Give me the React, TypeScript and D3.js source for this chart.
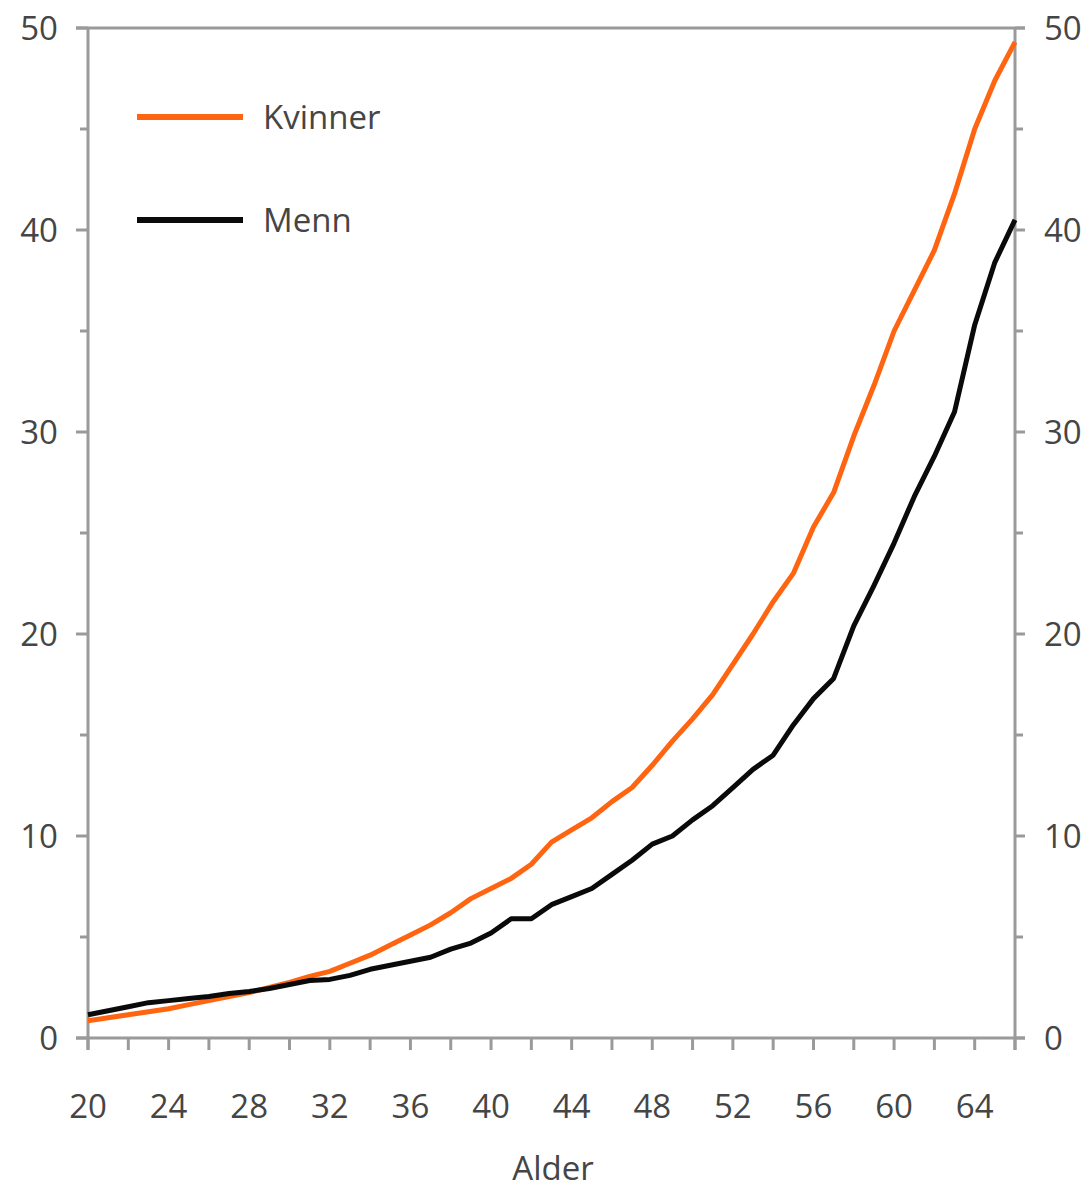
import React from "react";
import * as d3 from "d3";

const ages = d3.range(20, 67);
const kvinner = [0.85, 1.0, 1.15, 1.3, 1.45, 1.65, 1.85, 2.05, 2.25, 2.5, 2.75, 3.05, 3.3, 3.7, 4.1, 4.6, 5.1, 5.6, 6.2, 6.9, 7.4, 7.9, 8.6, 9.7, 10.3, 10.9, 11.7, 12.4, 13.5, 14.7, 15.8, 17.0, 18.5, 20.0, 21.6, 23.0, 25.3, 27.0, 29.8, 32.3, 35.0, 37.0, 39.0, 41.8, 45.0, 47.4, 49.3];
const menn = [1.15, 1.35, 1.55, 1.75, 1.85, 1.95, 2.05, 2.2, 2.3, 2.45, 2.65, 2.85, 2.9, 3.1, 3.4, 3.6, 3.8, 4.0, 4.4, 4.7, 5.2, 5.9, 5.9, 6.6, 7.0, 7.4, 8.1, 8.8, 9.6, 10.0, 10.8, 11.5, 12.4, 13.3, 14.0, 15.5, 16.8, 17.8, 20.4, 22.4, 24.5, 26.8, 28.8, 31.0, 35.3, 38.4, 40.5];
const xTickLabels = [20, 24, 28, 32, 36, 40, 44, 48, 52, 56, 60, 64];
const xMinorTicks = d3.range(20, 67, 2);
const yTickLabels = [0, 10, 20, 30, 40, 50];
const yMinorTicks = [5, 15, 25, 35, 45];
const seriesNames = ["Kvinner", "Menn"];
const seriesColors = ["#ff6510", "#0a0a0a"];
const xTitle = "Alder";

export default function App() {
  const W = 1092, H = 1189;
  const left = 88, right = 1015, top = 28, bottom = 1038;
  const x = d3.scaleLinear().domain([20, 66]).range([left, right]);
  const y = d3.scaleLinear().domain([0, 50]).range([bottom, top]);
  const line = d3.line<number>().x((_, i) => x(ages[i])).y((d) => y(d)).curve(d3.curveLinear);
  const axisColor = "#9a9a9a";
  const textColor = "#454545";
  const font = "'Open Sans', sans-serif";
  const fs = 33;
  const series = [kvinner, menn];
  return (
    <svg width={W} height={H} style={{ position: "absolute", left: 0, top: 0, background: "#fff" }}>
      <line x1={left - 12} x2={right + 10} y1={top} y2={top} stroke={axisColor} strokeWidth={3} />
      <line x1={left - 12} x2={right + 10} y1={bottom} y2={bottom} stroke={axisColor} strokeWidth={3} />
      <line x1={left} x2={left} y1={top} y2={bottom + 12} stroke={axisColor} strokeWidth={3} />
      <line x1={right} x2={right} y1={top} y2={bottom + 12} stroke={axisColor} strokeWidth={3} />
      {xMinorTicks.map((t) => (
        <line key={"xt" + t} x1={x(t)} x2={x(t)} y1={bottom} y2={bottom + 12} stroke={axisColor} strokeWidth={3} />
      ))}
      {yTickLabels.map((t) => (
        <g key={"yt" + t}>
          <line x1={left - 12} x2={left} y1={y(t)} y2={y(t)} stroke={axisColor} strokeWidth={3} />
          <line x1={right} x2={right + 10} y1={y(t)} y2={y(t)} stroke={axisColor} strokeWidth={3} />
        </g>
      ))}
      {yMinorTicks.map((t) => (
        <g key={"ym" + t}>
          <line x1={left - 8} x2={left} y1={y(t)} y2={y(t)} stroke={axisColor} strokeWidth={3} />
          <line x1={right} x2={right + 8} y1={y(t)} y2={y(t)} stroke={axisColor} strokeWidth={3} />
        </g>
      ))}
      {yTickLabels.map((t) => (
        <g key={"yl" + t} fontFamily={font} fontSize={fs} fill={textColor}>
          <text x={58} y={y(t)} dy="0.36em" textAnchor="end">{t}</text>
          <text x={1044} y={y(t)} dy="0.36em" textAnchor="start">{t}</text>
        </g>
      ))}
      {xTickLabels.map((t) => (
        <text key={"xl" + t} x={x(t)} y={1118} textAnchor="middle" fontFamily={font} fontSize={fs} fill={textColor}>{t}</text>
      ))}
      <text x={553} y={1180} textAnchor="middle" fontFamily={font} fontSize={fs} fill={textColor}>{xTitle}</text>
      {series.map((s, i) => (
        <path key={"s" + i} d={line(s) || ""} fill="none" stroke={seriesColors[i]} strokeWidth={5} strokeLinejoin="round" />
      ))}
      {seriesNames.map((n, i) => (
        <g key={"lg" + i}>
          <line x1={137} x2={243} y1={117 + i * 103} y2={117 + i * 103} stroke={seriesColors[i]} strokeWidth={6} />
          <text x={263} y={117 + i * 103} dy="0.36em" fontFamily={font} fontSize={fs} fill={textColor}>{n}</text>
        </g>
      ))}
    </svg>
  );
}
